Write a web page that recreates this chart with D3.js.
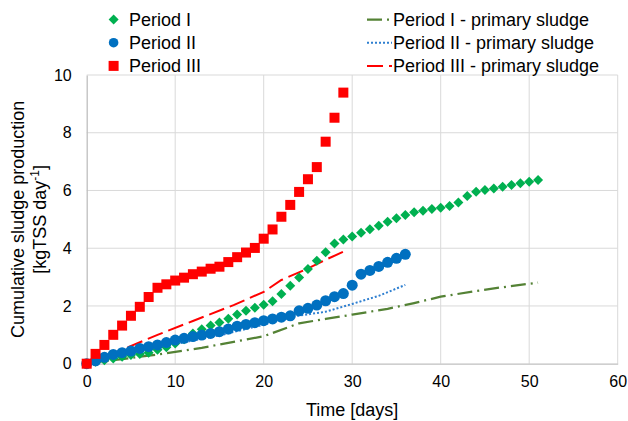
<!DOCTYPE html>
<html>
<head>
<meta charset="utf-8">
<script src="https://cdn.jsdelivr.net/npm/d3@7"></script>
<style>
  body { margin: 0; background: #fff; }
  svg { font-family: "Liberation Sans", Arial, sans-serif; }
</style>
</head>
<body>
<div id="chart"></div>
<script>
// measured series (day index = position in array)
const period1 = [0, 0.07, 0.12, 0.18, 0.24, 0.3, 0.34, 0.38, 0.48, 0.57, 0.7, 0.85, 1.05, 1.19, 1.32, 1.43, 1.56, 1.7, 1.83, 1.94, 2.04, 2.16, 2.41, 2.7, 2.99, 3.28, 3.57, 3.86, 4.16, 4.3, 4.41, 4.54, 4.66, 4.78, 4.92, 5.04, 5.15, 5.25, 5.3, 5.36, 5.4, 5.46, 5.58, 5.81, 5.96, 6.02, 6.07, 6.13, 6.19, 6.25, 6.3, 6.36]
const period2 = [0, 0.1, 0.22, 0.32, 0.38, 0.44, 0.53, 0.59, 0.65, 0.73, 0.82, 0.88, 0.94, 0.99, 1.05, 1.11, 1.2, 1.3, 1.36, 1.42, 1.49, 1.55, 1.61, 1.66, 1.83, 1.92, 2.03, 2.18, 2.32, 2.43, 2.72, 3.1, 3.23, 3.37, 3.51, 3.65, 3.79]
const period3 = [0, 0.34, 0.65, 1.0, 1.32, 1.66, 1.97, 2.31, 2.63, 2.75, 2.88, 2.98, 3.1, 3.19, 3.29, 3.36, 3.52, 3.69, 3.85, 4.01, 4.33, 4.65, 5.09, 5.5, 5.95, 6.39, 6.81, 7.69, 8.52, 9.39]

// primary sludge lines: [day, value]
const primary1 = [[0, 0], [5, 0.2], [9, 0.36], [13, 0.55], [17, 0.78], [20, 0.95], [24, 1.4], [27, 1.55], [30, 1.7], [34, 1.9], [37, 2.1], [40, 2.32], [44, 2.52], [47, 2.65], [51, 2.81]]
const primary2 = [[0, 0], [7, 0.5], [15, 0.98], [20, 1.35], [23, 1.62], [27, 1.8], [30, 2.07], [33, 2.35], [36, 2.73]]
const primary3 = [[0, 0], [3.5, 0.42], [8, 1.0], [12, 1.48], [16.6, 2.03], [20, 2.49], [22, 2.9], [25, 3.3], [27, 3.6], [29, 3.88]]

const xTicks = [0, 10, 20, 30, 40, 50, 60]
const yTicks = [0, 2, 4, 6, 8, 10]

const width = 628
const height = 421
const margin = { top: 75, right: 10.3, bottom: 57.3, left: 86.7 }
const font = '"Liberation Sans", Arial, sans-serif'

const svg = d3.select('#chart').append('svg')
  .attr('width', width)
  .attr('height', height)

const x = d3.scaleLinear().domain([0, 60]).range([margin.left, width - margin.right])
const y = d3.scaleLinear().domain([0, 10]).range([height - margin.bottom, margin.top])

// grid
svg.append('g')
  .selectAll('line')
  .data(yTicks.slice(1))
  .enter()
  .append('line')
  .attr('x1', x(0)).attr('x2', x(60))
  .attr('y1', d => y(d)).attr('y2', d => y(d))
  .attr('stroke', '#d9d9d9').attr('stroke-width', 1)

svg.append('g')
  .selectAll('line')
  .data(xTicks.slice(1))
  .enter()
  .append('line')
  .attr('x1', d => x(d)).attr('x2', d => x(d))
  .attr('y1', y(0)).attr('y2', y(10))
  .attr('stroke', '#d9d9d9').attr('stroke-width', 1)

// axes
const xAxis = svg.append('g')
  .attr('transform', `translate(0,${y(0)})`)
  .call(d3.axisBottom(x).tickValues(xTicks).tickSize(0).tickPadding(12))
xAxis.select('.domain').attr('stroke', '#bfbfbf').attr('stroke-width', 1.3)
xAxis.selectAll('text').attr('font-size', 16).attr('fill', '#000').attr('font-family', font)

const yAxis = svg.append('g')
  .attr('transform', `translate(${x(0)},0)`)
  .call(d3.axisLeft(y).tickValues(yTicks).tickSize(0).tickPadding(15))
yAxis.select('.domain').attr('stroke', '#bfbfbf').attr('stroke-width', 1.3)
yAxis.selectAll('text').attr('font-size', 16).attr('fill', '#000').attr('font-family', font)

// primary sludge lines
const line = d3.line().x(d => x(d[0])).y(d => y(d[1]))
const lineStyles = [
  { data: primary1, color: '#548235', dash: '15,5,2,5', w: 2.25 },
  { data: primary2, color: '#2e7fd0', dash: '2,2', w: 2 },
  { data: primary3, color: '#ff0000', dash: '16,6', w: 2 },
]
lineStyles.forEach(s => {
  svg.append('path')
    .datum(s.data)
    .attr('d', line)
    .attr('fill', 'none')
    .attr('stroke', s.color)
    .attr('stroke-width', s.w)
    .attr('stroke-dasharray', s.dash)
})

// markers
const diamond = d3.symbol().type(d3.symbolSquare).size(50)
svg.append('g')
  .selectAll('path')
  .data(period1)
  .enter()
  .append('path')
  .attr('d', diamond)
  .attr('transform', (d, i) => `translate(${x(i)},${y(d)}) rotate(45)`)
  .attr('fill', '#00b050')

svg.append('g')
  .selectAll('circle')
  .data(period2)
  .enter()
  .append('circle')
  .attr('cx', (d, i) => x(i))
  .attr('cy', d => y(d))
  .attr('r', 5.5)
  .attr('fill', '#0070c0')

svg.append('g')
  .selectAll('rect')
  .data(period3)
  .enter()
  .append('rect')
  .attr('x', (d, i) => x(i) - 5)
  .attr('y', d => y(d) - 5)
  .attr('width', 10)
  .attr('height', 10)
  .attr('fill', '#ff0000')

// axis titles
svg.append('text')
  .attr('x', (x(0) + x(60)) / 2)
  .attr('y', 416)
  .attr('text-anchor', 'middle')
  .attr('font-size', 18)
  .text('Time [days]')

const yt = svg.append('text')
  .attr('transform', `translate(0,${(y(0) + y(10)) / 2}) rotate(-90)`)
  .attr('text-anchor', 'middle')
  .attr('font-size', 18)
yt.append('tspan').attr('x', 0).attr('y', 24).text('Cumulative sludge production')
const yt2 = yt.append('tspan').attr('x', 0).attr('y', 46)
yt2.append('tspan').text('[kgTSS day')
yt2.append('tspan').attr('font-size', 12).attr('dy', -7).text('-1')
yt2.append('tspan').attr('dy', 7).text(']')

// legend
const legLeft = [
  { label: 'Period I', type: 'diamond', color: '#00b050' },
  { label: 'Period II', type: 'circle', color: '#0070c0' },
  { label: 'Period III', type: 'square', color: '#ff0000' },
]
const rowY = [19.5, 42.7, 65.9]
legLeft.forEach((l, i) => {
  const g = svg.append('g').attr('transform', `translate(113.6,${rowY[i]})`)
  if (l.type === 'diamond') g.append('path').attr('d', d3.symbol().type(d3.symbolSquare).size(50)).attr('transform', 'rotate(45)').attr('fill', l.color)
  if (l.type === 'circle') g.append('circle').attr('r', 4.8).attr('fill', l.color)
  if (l.type === 'square') g.append('rect').attr('x', -5).attr('y', -5).attr('width', 10).attr('height', 10).attr('fill', l.color)
  svg.append('text').attr('x', 129).attr('y', rowY[i] + 6.5).attr('font-size', 18).text(l.label)
})

const legRight = ['Period I - primary sludge', 'Period II - primary sludge', 'Period III - primary sludge']
lineStyles.forEach((s, i) => {
  svg.append('line')
    .attr('x1', 367).attr('x2', 392)
    .attr('y1', rowY[i]).attr('y2', rowY[i])
    .attr('stroke', s.color)
    .attr('stroke-width', s.w)
    .attr('stroke-dasharray', s.dash)
  svg.append('text').attr('x', 393).attr('y', rowY[i] + 6.5).attr('font-size', 18).text(legRight[i])
})
</script>
</body>
</html>
